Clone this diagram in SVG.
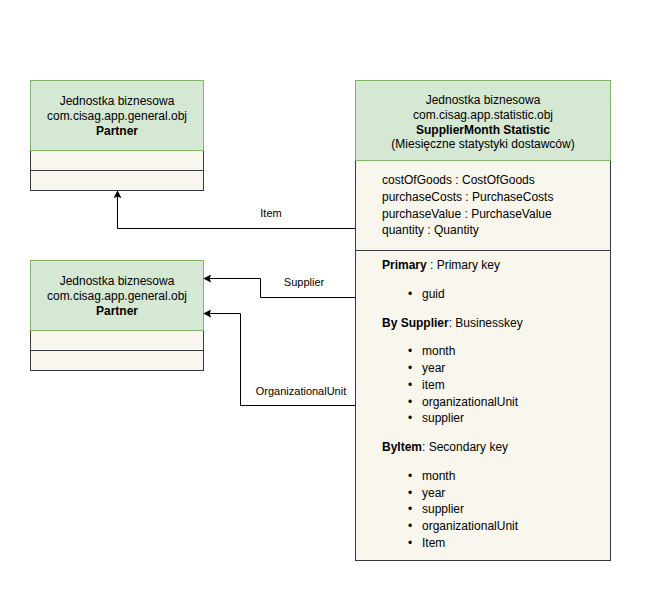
<svg xmlns="http://www.w3.org/2000/svg" width="660" height="600" viewBox="0 0 660 600">
<defs>
<style>
text{font-family:"Liberation Sans",Arial,sans-serif;font-size:12px;fill:#000}
.c{text-anchor:middle}
.b{font-weight:bold}
.hd{fill:#d5e8d4;stroke:#82b366;stroke-width:1}
.bd{fill:#f9f7ed;stroke:#36393d;stroke-width:1}
.ln{fill:none;stroke:#000;stroke-width:1}
.lbl{font-size:11px}
</style>
<marker id="arr" viewBox="0 0 10 10" refX="9" refY="5" markerWidth="8" markerHeight="8" markerUnits="userSpaceOnUse" orient="auto">
<path d="M0,0 L10,5 L0,10 L2,5 Z" fill="#000"/>
</marker>
</defs>
<rect width="660" height="600" fill="#fff"/>
<g id="partner1">
<rect class="bd" x="30.5" y="150.5" width="173" height="20"/>
<rect class="bd" x="30.5" y="170.5" width="173" height="20"/>
<rect class="hd" x="30.5" y="80.5" width="173" height="70"/>
<text class="c" x="117" y="105">Jednostka biznesowa</text>
<text class="c" x="117" y="120">com.cisag.app.general.obj</text>
<text class="c b" x="117" y="135">Partner</text>
</g>
<g id="partner2">
<rect class="bd" x="30.5" y="330.5" width="173" height="20"/>
<rect class="bd" x="30.5" y="350.5" width="173" height="20"/>
<rect class="hd" x="30.5" y="260.5" width="173" height="70"/>
<text class="c" x="117" y="285">Jednostka biznesowa</text>
<text class="c" x="117" y="300">com.cisag.app.general.obj</text>
<text class="c b" x="117" y="315">Partner</text>
</g>
<g id="stat">
<rect class="bd" x="355.5" y="160.5" width="255" height="90"/>
<rect class="bd" x="355.5" y="250.5" width="255" height="310"/>
<rect class="hd" x="355.5" y="80.5" width="255" height="80"/>
<text class="c" x="483" y="104">Jednostka biznesowa</text>
<text class="c" x="483" y="119">com.cisag.app.statistic.obj</text>
<text class="c b" x="483" y="134">SupplierMonth Statistic</text>
<text class="c" x="483" y="148">(Miesięczne statystyki dostawców)</text>
<text x="382" y="184">costOfGoods : CostOfGoods</text>
<text x="382" y="201">purchaseCosts : PurchaseCosts</text>
<text x="382" y="218">purchaseValue : PurchaseValue</text>
<text x="382" y="234">quantity : Quantity</text>
<text x="382" y="269"><tspan class="b">Primary</tspan> : Primary key</text>
<g id="bullets">
<text x="408" y="298">•</text><text x="422" y="298">guid</text>
<text x="408" y="355">•</text><text x="422" y="355">month</text>
<text x="408" y="372">•</text><text x="422" y="372">year</text>
<text x="408" y="389">•</text><text x="422" y="389">item</text>
<text x="408" y="406">•</text><text x="422" y="406">organizationalUnit</text>
<text x="408" y="422">•</text><text x="422" y="422">supplier</text>
<text x="408" y="480">•</text><text x="422" y="480">month</text>
<text x="408" y="497">•</text><text x="422" y="497">year</text>
<text x="408" y="513">•</text><text x="422" y="513">supplier</text>
<text x="408" y="530">•</text><text x="422" y="530">organizationalUnit</text>
<text x="408" y="547">•</text><text x="422" y="547">Item</text>
</g>
<text x="382" y="327"><tspan class="b">By Supplier</tspan>: Businesskey</text>
<text x="382" y="451"><tspan class="b">ByItem</tspan>: Secondary key</text>
</g>
<g id="connectors">
<polyline class="ln" points="355,228.5 117.5,228.5 117.5,191" marker-end="url(#arr)"/>
<text class="c lbl" x="271" y="217">Item</text>
<polyline class="ln" points="355,297.5 260.5,297.5 260.5,278.5 204,278.5" marker-end="url(#arr)"/>
<text class="c lbl" x="304" y="286">Supplier</text>
<polyline class="ln" points="355,405.5 240.5,405.5 240.5,313.5 204,313.5" marker-end="url(#arr)"/>
<text class="c lbl" x="301" y="395">OrganizationalUnit</text>
</g>
</svg>
